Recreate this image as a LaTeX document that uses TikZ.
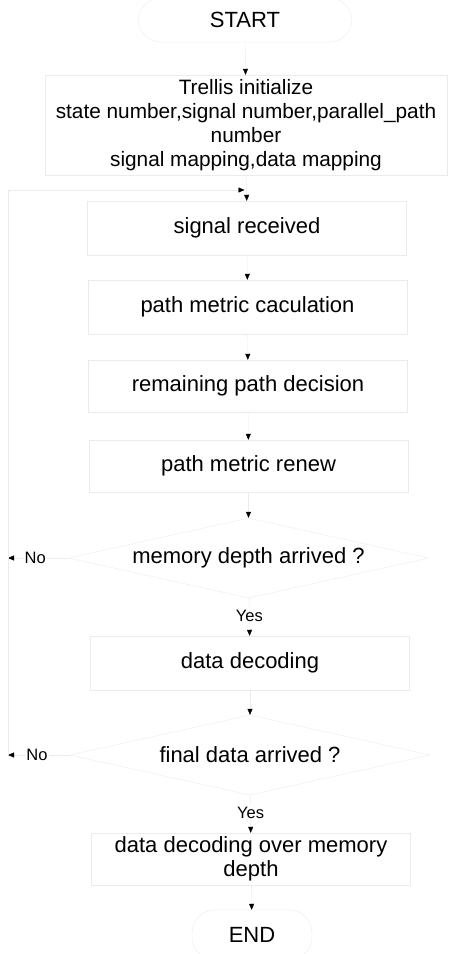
\documentclass[tikz,border=0pt]{standalone}
\usepackage{fontspec}
\setmainfont{Liberation Sans}
\usetikzlibrary{arrows.meta,shapes.geometric}

\newcommand\bodysize{\fontsize{22}{24}\selectfont}
\newcommand\initsize{\fontsize{20.8}{24}\selectfont}
\newcommand\labelsize{\fontsize{16.5}{18}\selectfont}

\tikzset{
  faint/.style={draw=black!8, line width=0.4pt},
  flow/.style={faint, -{Triangle[width=5pt,length=6pt,black]}},
  stepbox/.style={faint, rectangle, inner sep=0pt, align=center, font=\bodysize},
  termbox/.style={stepbox, rounded corners=23pt},
  decision/.style={faint, diamond, aspect=4.5, inner sep=0pt,
    minimum width=360pt, minimum height=80pt, font=\bodysize},
  branch/.style={font=\labelsize, fill=white, inner sep=1pt},
}

\begin{document}
\begin{tikzpicture}[x=1pt, y=-1pt]
\useasboundingbox (0,0) rectangle (456,954);

% process steps
\node[termbox, minimum width=214pt, minimum height=44pt] (start) at (245,20) {START};
\node[stepbox, font=\initsize, minimum width=402pt, minimum height=100pt] (init) at (246,125)
  {Trellis initialize\\state number,signal number,parallel\_path\\number\\signal mapping,data mapping};
\node[stepbox, minimum width=319pt, minimum height=54pt] (recv) at (247,228) {signal received};
\node[stepbox, minimum width=319pt, minimum height=54pt] (pmc)  at (247.5,307) {path metric caculation};
\node[stepbox, minimum width=319pt, minimum height=52pt] (rpd)  at (248,386) {remaining path decision};
\node[stepbox, minimum width=319pt, minimum height=52pt] (pmr)  at (248.5,466) {path metric renew};
\node[decision] (mem) at (248.5,558) {memory depth arrived ?};
\node[stepbox, minimum width=319pt, minimum height=54pt] (dd)   at (250,663) {data decoding};
\node[decision] (fin) at (250,755) {final data arrived ?};
\node[stepbox, minimum width=319pt, minimum height=52pt] (ddm)  at (251,859) {data decoding over memory\\depth};
\node[termbox, minimum width=120pt, minimum height=50pt] (end)  at (252,935) {END};

% loop-back points
\coordinate (merge) at (244.5,190);
\coordinate (loopA) at (8,558);
\coordinate (loopB) at (8,755);

% main flow
\draw[flow] (start) -- (init);
\draw[flow] (init) -- (recv);
\draw[flow] (recv) -- (pmc);
\draw[flow] (pmc) -- (rpd);
\draw[flow] (rpd) -- (pmr);
\draw[flow] (pmr) -- (mem);
\draw[flow] (mem) -- node[branch, pos=0.47] {Yes} (dd);
\draw[flow] (dd) -- (fin);
\draw[flow] (fin) -- node[branch, pos=0.47] {Yes} (ddm);
\draw[flow] (ddm) -- (end);

% "No" branches returning to the receiver
\draw[flow] (mem.west) -- node[branch, pos=0.55] {No} (loopA);
\draw[flow] (fin.west) -- node[branch, pos=0.53] {No} (loopB);
\draw[faint] (loopB) -- (loopA);
\draw[flow] (loopA) |- (merge);
\end{tikzpicture}
\end{document}
